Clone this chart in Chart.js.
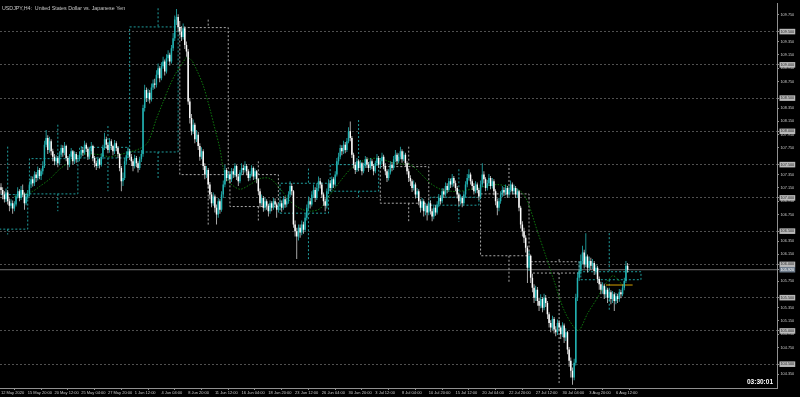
<!DOCTYPE html>
<html>
<head>
    <title>USDJPY,H4</title>
    <meta charset="UTF-8">
    <style>
        html, body {
            margin: 0;
            padding: 0;
            background: #000;
        }
        .chart-container {
            width: 800px;
            height: 397px;
        }
    </style>
    <script src="https://cdn.jsdelivr.net/npm/chart.js"></script>
</head>
<body>
<div class="chart-container">
    <canvas id="usdjpyChart" width="800" height="397"></canvas>
</div>
<script>
    // H4 bars, bar 0 = first visible bar (open of a bar = previous close)
    const firstOpen = 107.16;
    const closes = [
        107.12, 107.05, 106.98, 107.08, 106.95, 106.88, 106.92, 106.84, 106.90, 107.02, 107.10, 107.00, 107.12, 107.05, 106.92, 107.02, 107.06,
        107.20, 107.28, 107.22, 107.35, 107.30, 107.42, 107.33, 107.40, 107.48, 107.80, 107.90, 107.72, 107.85, 107.70, 107.62, 107.55, 107.60, 107.52, 107.65, 107.75, 107.68, 107.78, 107.60, 107.50, 107.62, 107.70, 107.55, 107.66, 107.58, 107.59,
        107.65, 107.72, 107.68, 107.80, 107.74, 107.62, 107.70, 107.78, 107.60, 107.52, 107.48, 107.58, 107.50, 107.62, 107.75, 107.88, 107.80, 107.72, 107.85, 107.78, 107.70, 107.82, 107.75, 107.66, 107.45, 107.25, 107.30, 107.55, 107.64, 107.70,
        107.62, 107.55, 107.48, 107.60, 107.52, 107.45, 107.58, 107.66, 108.35, 108.62, 108.50, 108.58, 108.48, 108.66, 108.72, 108.70, 108.85, 108.95, 108.80, 108.98, 109.05, 108.90, 109.10, 109.15, 109.05, 109.25, 109.40, 109.68, 109.72, 109.57,
        109.50, 109.42, 109.55, 109.30, 109.20, 108.45, 108.20, 108.00, 108.10, 107.88, 107.95, 107.78, 107.62, 107.70, 107.48, 107.35, 107.42, 107.20, 107.05, 106.92, 107.02, 106.85, 106.75, 106.95, 106.82, 107.05, 107.20, 107.42, 107.30, 107.35,
        107.28, 107.40, 107.35, 107.48, 107.32, 107.25, 107.38, 107.45, 107.42, 107.48, 107.40, 107.30, 107.36, 107.45, 107.32, 107.40, 107.28, 107.10, 106.92, 107.00, 106.85, 106.95, 106.88, 106.80, 106.92, 106.85, 106.95, 106.90, 106.82, 106.87,
        106.92, 106.85, 106.98, 106.90, 106.95, 107.05, 107.18, 107.10, 106.60, 106.50, 106.42, 106.55, 106.48, 106.60, 106.52, 106.70, 106.85, 106.95, 106.90, 107.05, 107.12, 107.00, 107.15, 107.25, 107.20, 107.05, 106.95, 106.88, 107.10, 107.22,
        107.15, 107.28, 107.20, 107.35, 107.55, 107.62, 107.75, 107.70, 107.80, 107.72, 107.85, 108.00, 107.90, 107.65, 107.50, 107.42, 107.55, 107.45, 107.52, 107.40, 107.48, 107.58, 107.50, 107.45, 107.55, 107.48, 107.40, 107.52, 107.60, 107.50,
        107.55, 107.62, 107.48, 107.40, 107.30, 107.38, 107.50, 107.45, 107.58, 107.65, 107.55, 107.62, 107.70, 107.58, 107.65, 107.52, 107.40, 107.30, 107.25, 107.15, 107.20, 107.05, 107.10, 106.95, 106.85, 106.95, 106.80, 106.88, 106.78, 106.92,
        106.80, 106.72, 106.85, 106.78, 106.90, 107.00, 106.95, 107.10, 107.05, 107.18, 107.12, 107.25, 107.20, 107.30, 107.22, 107.15, 107.05, 106.95, 107.00, 106.92, 107.05, 107.20, 107.30, 107.35, 107.25, 107.18, 107.10, 107.20, 107.12, 107.02,
        107.20, 107.35, 107.28, 107.15, 107.22, 107.30, 107.18, 107.25, 107.10, 106.95, 106.85, 106.95, 107.05, 107.12, 107.08, 107.15, 107.05, 107.12, 107.20, 107.10, 107.15, 107.05, 107.10, 106.85, 106.60, 106.50, 106.40, 106.25, 105.95, 106.13,
        105.80, 105.65, 105.50, 105.62, 105.45, 105.38, 105.48, 105.35, 105.50, 105.42, 105.25, 105.12, 105.05, 105.18, 105.02, 104.98, 105.12, 105.05, 104.95, 105.08, 104.90, 104.98, 104.72, 104.55, 104.40, 104.30, 104.52, 105.50, 105.80, 105.90,
        106.05, 106.18, 106.00, 106.12, 105.95, 106.05, 105.98, 106.02, 105.90, 105.95, 105.78, 105.70, 105.62, 105.68, 105.55, 105.62, 105.50, 105.58, 105.48, 105.55, 105.45, 105.52, 105.48, 105.58, 105.55, 105.65, 105.75, 105.98, 105.92
    ];
    const highs = [
        107.22, 107.16, 107.10, 107.14, 107.12, 106.99, 106.98, 106.96, 106.95, 107.06, 107.16, 107.13, 107.18, 107.20, 107.08, 107.07, 107.12,
        107.25, 107.33, 107.32, 107.40, 107.39, 107.47, 107.45, 107.44, 107.55, 107.86, 108.02, 107.94, 107.92, 107.88, 107.74, 107.66, 107.64, 107.63, 107.70, 107.80, 107.79, 107.84, 107.80, 107.63, 107.66, 107.75, 107.72, 107.70, 107.69, 107.64,
        107.70, 107.78, 107.76, 107.86, 107.83, 107.77, 107.75, 107.84, 107.80, 107.63, 107.56, 107.62, 107.60, 107.67, 107.80, 107.98, 107.92, 107.83, 107.90, 107.88, 107.80, 107.87, 107.85, 107.78, 107.68, 107.48, 107.38, 107.60, 107.70, 107.76,
        107.74, 107.66, 107.58, 107.65, 107.63, 107.55, 107.62, 107.72, 108.40, 108.70, 108.66, 108.64, 108.62, 108.72, 108.78, 108.79, 108.92, 109.02, 108.98, 109.04, 109.12, 109.08, 109.16, 109.22, 109.18, 109.30, 109.48, 109.74, 109.84, 109.76,
        109.66, 109.58, 109.62, 109.58, 109.35, 109.24, 108.50, 108.26, 108.18, 108.13, 108.02, 107.99, 107.82, 107.76, 107.73, 107.52, 107.48, 107.45, 107.24, 107.09, 107.08, 107.05, 106.90, 107.00, 106.98, 107.10, 107.26, 107.50, 107.45, 107.40,
        107.40, 107.45, 107.44, 107.52, 107.50, 107.36, 107.42, 107.52, 107.50, 107.55, 107.51, 107.43, 107.40, 107.49, 107.47, 107.44, 107.42, 107.30, 107.14, 107.05, 107.03, 107.00, 106.98, 106.91, 106.96, 106.95, 107.00, 106.99, 106.93, 106.92,
        106.98, 106.96, 107.03, 107.02, 107.00, 107.10, 107.25, 107.22, 107.12, 106.66, 106.55, 106.60, 106.60, 106.66, 106.64, 106.76, 106.90, 107.02, 107.00, 107.10, 107.20, 107.16, 107.22, 107.32, 107.30, 107.23, 107.08, 106.99, 107.14, 107.28,
        107.27, 107.32, 107.31, 107.40, 107.60, 107.68, 107.80, 107.79, 107.86, 107.84, 107.90, 108.06, 108.15, 107.93, 107.68, 107.54, 107.60, 107.58, 107.57, 107.54, 107.53, 107.63, 107.61, 107.54, 107.60, 107.58, 107.51, 107.56, 107.66, 107.63,
        107.60, 107.68, 107.65, 107.52, 107.43, 107.43, 107.55, 107.54, 107.63, 107.72, 107.68, 107.67, 107.77, 107.73, 107.70, 107.68, 107.55, 107.44, 107.34, 107.28, 107.26, 107.23, 107.15, 107.13, 106.98, 107.00, 106.98, 106.92, 106.91, 106.96,
        106.96, 106.84, 106.90, 106.89, 106.95, 107.06, 107.04, 107.15, 107.14, 107.23, 107.22, 107.30, 107.29, 107.36, 107.33, 107.26, 107.18, 107.08, 107.05, 107.03, 107.10, 107.25, 107.36, 107.43, 107.38, 107.28, 107.22, 107.25, 107.23, 107.15,
        107.26, 107.52, 107.40, 107.31, 107.27, 107.36, 107.33, 107.30, 107.28, 107.13, 106.99, 107.00, 107.10, 107.18, 107.16, 107.20, 107.18, 107.17, 107.26, 107.23, 107.20, 107.18, 107.14, 107.12, 106.88, 106.65, 106.55, 106.44, 106.28, 106.20,
        106.15, 105.86, 105.70, 105.68, 105.66, 105.50, 105.55, 105.51, 105.56, 105.54, 105.45, 105.28, 105.16, 105.23, 105.21, 105.07, 105.17, 105.16, 105.08, 105.13, 105.11, 105.04, 105.00, 104.76, 104.60, 104.45, 104.58, 105.56, 105.88, 106.05,
        106.15, 106.28, 106.22, 106.47, 106.15, 106.12, 106.10, 106.08, 106.05, 106.00, 105.98, 105.82, 105.74, 105.73, 105.71, 105.67, 105.65, 105.63, 105.61, 105.60, 105.58, 105.57, 105.56, 105.63, 105.62, 105.70, 105.80, 106.05, 106.02
    ];
    const lows = [
        107.05, 106.98, 106.93, 106.94, 106.90, 106.80, 106.84, 106.76, 106.80, 106.87, 106.99, 106.95, 106.97, 107.01, 106.82, 106.89, 106.98,
        107.02, 107.15, 107.17, 107.18, 107.24, 107.26, 107.28, 107.27, 107.35, 107.45, 107.76, 107.66, 107.68, 107.64, 107.55, 107.49, 107.50, 107.46, 107.49, 107.61, 107.62, 107.64, 107.55, 107.42, 107.46, 107.58, 107.50, 107.51, 107.53, 107.54,
        107.55, 107.61, 107.63, 107.65, 107.69, 107.57, 107.58, 107.66, 107.55, 107.46, 107.42, 107.45, 107.44, 107.47, 107.58, 107.72, 107.74, 107.67, 107.68, 107.72, 107.64, 107.66, 107.70, 107.60, 107.40, 107.10, 107.18, 107.27, 107.50, 107.60,
        107.57, 107.48, 107.40, 107.44, 107.46, 107.38, 107.42, 107.54, 107.62, 108.30, 108.44, 108.45, 108.42, 108.45, 108.62, 108.64, 108.66, 108.80, 108.74, 108.77, 108.94, 108.84, 108.87, 109.05, 108.99, 109.02, 109.21, 109.36, 109.60, 109.50,
        109.44, 109.36, 109.38, 109.24, 109.12, 108.40, 108.12, 107.94, 107.96, 107.82, 107.84, 107.72, 107.56, 107.58, 107.42, 107.28, 107.30, 107.14, 106.98, 106.86, 106.88, 106.78, 106.60, 106.70, 106.76, 106.79, 107.00, 107.16, 107.25, 107.26,
        107.22, 107.24, 107.30, 107.31, 107.27, 107.18, 107.22, 107.34, 107.36, 107.38, 107.34, 107.25, 107.26, 107.32, 107.27, 107.28, 107.22, 107.04, 106.86, 106.88, 106.79, 106.81, 106.82, 106.72, 106.76, 106.80, 106.82, 106.85, 106.70, 106.78,
        106.82, 106.79, 106.82, 106.85, 106.86, 106.91, 107.01, 107.04, 106.55, 106.42, 106.08, 106.36, 106.40, 106.44, 106.46, 106.49, 106.66, 106.80, 106.84, 106.87, 107.00, 106.94, 106.97, 107.10, 107.14, 107.00, 106.88, 106.80, 106.84, 107.06,
        107.10, 107.12, 107.15, 107.17, 107.32, 107.50, 107.58, 107.64, 107.66, 107.67, 107.69, 107.82, 107.85, 107.60, 107.44, 107.36, 107.39, 107.40, 107.41, 107.34, 107.37, 107.45, 107.45, 107.39, 107.42, 107.43, 107.34, 107.37, 107.48, 107.45,
        107.45, 107.51, 107.43, 107.34, 107.24, 107.26, 107.35, 107.40, 107.42, 107.54, 107.50, 107.52, 107.58, 107.53, 107.55, 107.47, 107.35, 107.24, 107.18, 107.09, 107.11, 106.99, 107.00, 106.89, 106.78, 106.81, 106.72, 106.74, 106.66, 106.74,
        106.75, 106.65, 106.68, 106.73, 106.75, 106.86, 106.90, 106.92, 107.00, 107.02, 107.07, 107.09, 107.15, 107.16, 107.17, 107.10, 106.99, 106.88, 106.90, 106.86, 106.89, 107.01, 107.16, 107.26, 107.20, 107.12, 107.05, 107.07, 107.07, 106.97,
        106.98, 107.16, 107.22, 107.10, 107.11, 107.18, 107.13, 107.14, 107.04, 106.89, 106.74, 106.80, 106.91, 107.01, 107.03, 107.04, 107.00, 107.01, 107.08, 107.05, 107.06, 107.00, 107.00, 106.80, 106.54, 106.42, 106.32, 106.18, 105.72, 105.90,
        105.72, 105.58, 105.42, 105.45, 105.38, 105.30, 105.34, 105.28, 105.31, 105.36, 105.18, 105.05, 104.98, 105.01, 104.96, 104.92, 104.94, 104.99, 104.88, 104.91, 104.82, 104.85, 104.65, 104.46, 104.30, 104.19, 104.26, 104.48, 105.45, 105.75,
        105.85, 106.00, 105.94, 105.96, 105.88, 105.90, 105.92, 105.93, 105.84, 105.85, 105.72, 105.62, 105.55, 105.56, 105.48, 105.50, 105.42, 105.45, 105.40, 105.42, 105.30, 105.40, 105.42, 105.44, 105.49, 105.52, 105.61, 105.72, 105.88
    ];

    // weekly candles drawn as dotted boxes (bar index of first / last H4 bar of each week)
    const weekStart = [-13, 17, 47, 77, 107, 137, 167, 197, 227, 257, 287, 317, 347];
    const weekEnd   = [16, 46, 76, 106, 136, 166, 196, 226, 256, 286, 316, 346, 383];
    const weekOpen  = [106.53, 107.06, 107.60, 107.69, 109.56, 107.35, 106.77, 107.10, 107.47, 106.89, 107.06, 106.04, 105.77];
    const weekHigh  = [107.77, 108.10, 108.08, 109.85, 109.68, 107.55, 107.44, 108.17, 107.77, 107.43, 107.51, 106.08, 106.47];
    const weekLow   = [106.45, 106.80, 107.10, 107.30, 106.57, 106.66, 106.08, 107.00, 106.65, 106.64, 105.71, 104.19, 105.30];
    const weekClose = [107.05, 107.59, 107.76, 109.57, 107.35, 106.87, 107.22, 107.50, 106.92, 107.01, 106.13, 105.87, 105.89];

    // green dotted average line, traced points (bar index, price)
    const maIdx = [8, 19, 23, 29, 35, 41, 47, 53, 59, 65, 71, 77, 83, 88, 93, 97, 101, 105, 109, 111, 114, 117, 121, 125, 128, 131, 133, 135, 137, 143, 149, 155, 161, 167, 173, 179, 185, 191, 197, 203, 209, 215, 221, 227, 233, 239, 245, 251, 257, 263, 269, 275, 287, 297, 305, 311, 315, 321, 326, 331, 337, 343, 346, 351, 357, 361, 366, 369, 372];
    const maVal = [107.02, 107.10, 107.17, 107.28, 107.43, 107.54, 107.65, 107.66, 107.65, 107.62, 107.65, 107.69, 107.74, 107.84, 108.19, 108.44, 108.69, 108.89, 109.04, 109.11, 109.07, 108.93, 108.69, 108.34, 108.04, 107.74, 107.44, 107.29, 107.22, 107.13, 107.20, 107.29, 107.29, 107.14, 106.95, 106.84, 106.80, 106.84, 107.05, 107.25, 107.43, 107.54, 107.59, 107.59, 107.54, 107.51, 107.50, 107.37, 107.22, 107.13, 107.10, 107.10, 107.16, 107.20, 107.16, 107.10, 106.95, 106.50, 106.13, 105.75, 105.31, 105.05, 105.01, 105.26, 105.50, 105.68, 105.83, 105.78, 105.68];

    // price axis: half-yen levels (highlighted), regular labels, current bid
    const priceLevels = [109.5, 109.0, 108.5, 108.0, 107.5, 107.0, 106.5, 106.0, 105.5, 105.0, 104.5];
    const priceTicks = [109.75, 109.35, 109.15, 108.95, 108.75, 108.35, 108.15, 107.95, 107.75, 107.35, 107.15, 106.95, 106.75, 106.35, 106.15, 105.75, 105.35, 105.15, 104.95, 104.75, 104.35];
    const bidPrice = 105.92;
    const bidLabel = '105.920';

    // orange level near the last bars
    const orangeLevel = 105.69;
    const orangeFrom = 362;
    const orangeTo = 378;

    // time axis, one label every 16 bars
    const timeTickIdx = [0, 16, 32, 48, 64, 80, 96, 112, 128, 144, 160, 176, 192, 208, 224, 240, 256, 272, 288, 304, 320, 336, 352, 368];
    const timeLabels = ['12 May 2020', '15 May 20:00', '20 May 12:00', '25 May 04:00', '27 May 20:00', '1 Jun 12:00', '4 Jun 04:00', '8 Jun 20:00',
        '11 Jun 12:00', '16 Jun 04:00', '18 Jun 20:00', '23 Jun 12:00', '26 Jun 04:00', '30 Jun 20:00', '3 Jul 12:00', '8 Jul 04:00',
        '10 Jul 20:00', '15 Jul 12:00', '20 Jul 04:00', '22 Jul 20:00', '27 Jul 12:00', '30 Jul 04:00', '3 Aug 20:00', '6 Aug 12:00'];

    const chartTitle = 'USDJPY,H4:  United States Dollar vs. Japanese Yen';
    const countdown = '03:30:01';

    const xMin = -0.6;
    const xMax = 464.4;
    const yMin = 104.142;
    const yMax = 109.918;

    const bullColor = '#22b3b3';
    const bearColor = '#ffffff';
    const fontFamily = '"Liberation Sans", Arial, sans-serif';

    // split candles into bull / bear bodies and wicks
    const bullBodies = [], bullWicks = [], bearBodies = [], bearWicks = [];
    closes.forEach((c, i) => {
        const o = i === 0 ? firstOpen : closes[i - 1];
        const body = { x: i, y: [Math.min(o, c), Math.max(o, c)] };
        const wick = { x: i, y: [lows[i], highs[i]] };
        if (c >= o) {
            bullBodies.push(body);
            bullWicks.push(wick);
        } else {
            bearBodies.push(body);
            bearWicks.push(wick);
        }
    });

    // weekly boxes as dotted outlines, broken with nulls between weeks
    const cyanBoxes = [], whiteBoxes = [];
    weekStart.forEach((s, w) => {
        const e = weekEnd[w];
        const o = weekOpen[w], c = weekClose[w];
        const top = Math.max(o, c), bottom = Math.min(o, c);
        const mid = s + 17;
        const target = c >= o ? cyanBoxes : whiteBoxes;
        target.push(
            { x: s, y: o }, { x: e, y: o }, { x: e, y: c }, { x: s, y: c }, { x: s, y: o }, { x: s, y: null },
            { x: mid, y: weekHigh[w] }, { x: mid, y: top }, { x: mid, y: null },
            { x: mid, y: bottom }, { x: mid, y: weekLow[w] }, { x: mid, y: null }
        );
    });

    const maData = maIdx.map((x, i) => ({ x: x, y: maVal[i] }));

    function isLevel(v) {
        return priceLevels.some(l => Math.abs(l - v) < 1e-6);
    }
    function isBid(v) {
        return Math.abs(v - bidPrice) < 1e-6;
    }

    const mtPlugin = {
        id: 'mtPlugin',
        beforeDraw(chart) {
            const ctx = chart.ctx;
            ctx.save();
            ctx.fillStyle = '#000000';
            ctx.fillRect(0, 0, chart.width, chart.height);
            ctx.restore();
        },
        afterDraw(chart) {
            const ctx = chart.ctx;
            const area = chart.chartArea;
            ctx.save();
            ctx.fillStyle = '#c8c8c8';
            ctx.font = '5.3px ' + fontFamily;
            ctx.textBaseline = 'top';
            ctx.textAlign = 'left';
            ctx.fillText(chartTitle, area.left + 2, area.top + 2);

            ctx.fillStyle = '#ffffff';
            ctx.font = 'bold 6.5px ' + fontFamily;
            ctx.textAlign = 'right';
            ctx.textBaseline = 'bottom';
            ctx.fillText(countdown, area.right - 4, area.bottom - 3);
            ctx.restore();
        }
    };

    const ctx = document.getElementById('usdjpyChart').getContext('2d');
    new Chart(ctx, {
        type: 'bar',
        data: {
            datasets: [
                { label: 'bullBody', data: bullBodies, backgroundColor: bullColor, barThickness: 1.5, grouped: false, minBarLength: 1, inflateAmount: 0, order: 0 },
                { label: 'bearBody', data: bearBodies, backgroundColor: bearColor, barThickness: 1.5, grouped: false, minBarLength: 1, inflateAmount: 0, order: 0 },
                { label: 'bullWick', data: bullWicks, backgroundColor: bullColor, barThickness: 0.8, grouped: false, inflateAmount: 0, order: 1 },
                { label: 'bearWick', data: bearWicks, backgroundColor: '#d0d0d0', barThickness: 0.8, grouped: false, inflateAmount: 0, order: 1 },
                {
                    type: 'line', label: 'orange', order: 0,
                    data: [{ x: orangeFrom, y: orangeLevel }, { x: orangeTo, y: orangeLevel }],
                    borderColor: '#d4a000', borderWidth: 1, pointRadius: 0
                },
                {
                    type: 'line', label: 'ma', order: 2, data: maData,
                    borderColor: '#0e7a0e', borderWidth: 1, borderDash: [1.5, 1.5], pointRadius: 0, tension: 0.3
                },
                {
                    type: 'line', label: 'cyanWeeks', order: 3, data: cyanBoxes, spanGaps: false,
                    borderColor: '#1f9c9c', borderWidth: 1, borderDash: [2, 2], pointRadius: 0, tension: 0
                },
                {
                    type: 'line', label: 'whiteWeeks', order: 3, data: whiteBoxes, spanGaps: false,
                    borderColor: '#a8a8a8', borderWidth: 1, borderDash: [2, 2], pointRadius: 0, tension: 0
                },
                {
                    type: 'line', label: 'bid', order: 4,
                    data: [{ x: xMin, y: bidPrice }, { x: xMax, y: bidPrice }],
                    borderColor: '#707070', borderWidth: 1, pointRadius: 0
                }
            ]
        },
        options: {
            responsive: false,
            animation: false,
            devicePixelRatio: 1,
            layout: {
                padding: { top: 1, left: 0, right: 0, bottom: 0 }
            },
            plugins: {
                legend: { display: false },
                tooltip: { enabled: false },
                title: { display: false }
            },
            scales: {
                x: {
                    type: 'linear',
                    min: xMin,
                    max: xMax,
                    bounds: 'data',
                    offset: false,
                    afterBuildTicks: function (scale) {
                        scale.ticks = timeTickIdx.map(v => ({ value: v }));
                    },
                    afterFit: function (scale) {
                        scale.height = 9;
                    },
                    ticks: {
                        autoSkip: false,
                        maxRotation: 0,
                        align: 'start',
                        padding: 0,
                        color: '#c8c8c8',
                        font: { family: fontFamily, size: 4 },
                        callback: function (value) {
                            const k = timeTickIdx.indexOf(value);
                            return k >= 0 ? timeLabels[k] : '';
                        }
                    },
                    grid: {
                        drawOnChartArea: false,
                        drawTicks: true,
                        tickLength: 2,
                        tickColor: '#909090'
                    },
                    border: { color: '#909090', width: 1 }
                },
                y: {
                    type: 'linear',
                    position: 'right',
                    min: yMin,
                    max: yMax,
                    bounds: 'data',
                    afterBuildTicks: function (scale) {
                        scale.ticks = priceLevels.concat(priceTicks, [bidPrice]).map(v => ({ value: v }));
                    },
                    afterFit: function (scale) {
                        scale.width = 23;
                    },
                    ticks: {
                        autoSkip: false,
                        padding: 1.5,
                        font: { family: fontFamily, size: 3.8 },
                        color: function (c) {
                            const v = c.tick.value;
                            if (isBid(v)) return '#ffffff';
                            return isLevel(v) ? '#2a2a2a' : '#c8c8c8';
                        },
                        showLabelBackdrop: function (c) {
                            return isLevel(c.tick.value) || isBid(c.tick.value);
                        },
                        backdropColor: function (c) {
                            return isBid(c.tick.value) ? '#6e7c8c' : '#b8b8b8';
                        },
                        backdropPadding: { top: 0.5, bottom: 0.5, left: 1, right: 1 },
                        callback: function (value) {
                            if (isBid(value)) return bidLabel;
                            return value.toFixed(3);
                        }
                    },
                    grid: {
                        drawOnChartArea: true,
                        drawTicks: true,
                        tickLength: 2,
                        tickColor: '#909090',
                        color: function (c) {
                            return c.tick && isLevel(c.tick.value) ? '#505050' : 'rgba(0,0,0,0)';
                        }
                    },
                    border: { color: '#909090', width: 1, dash: [2, 2] }
                }
            }
        },
        plugins: [mtPlugin]
    });
</script>
</body>
</html>
